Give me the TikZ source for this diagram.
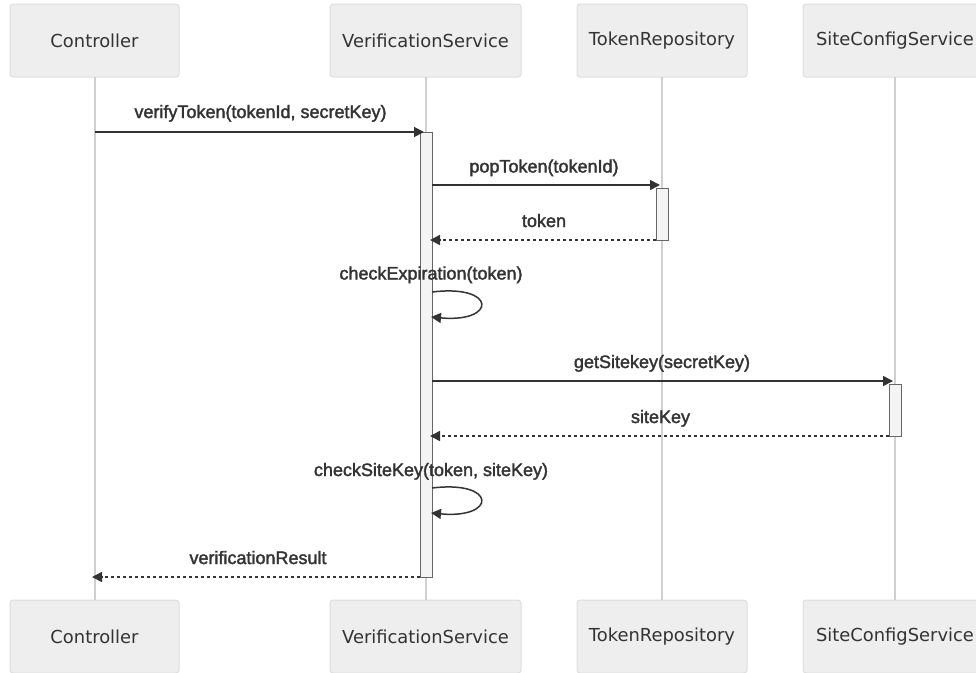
\documentclass[tikz,border=0pt]{standalone}
\usepackage{fontspec}
\setmainfont{Liberation Sans}
\newfontfamily\actorfont{DejaVu Sans}
\newfontfamily\msgfont[FakeBold=2]{Liberation Sans}
\usetikzlibrary{arrows.meta}
\definecolor{ink}{HTML}{333333}
\definecolor{actorfill}{HTML}{EEEEEE}
\definecolor{actorline}{HTML}{DDDDDD}
\definecolor{lifeline}{HTML}{D0D0D0}
\definecolor{actfill}{HTML}{F4F4F4}
\definecolor{actline}{HTML}{666666}
\tikzset{
  actor/.style={rectangle, rounded corners=3pt, fill=actorfill, draw=actorline,
    line width=1pt, inner sep=0pt, outer sep=0pt, minimum height=73pt,
    text=ink, font=\actorfont\fontsize{17.9}{20}\selectfont},
  life/.style={draw=lifeline, line width=2pt},
  activ/.style={rectangle, fill=actfill, draw=actline, line width=0.8pt,
    inner sep=0pt, outer sep=0pt, minimum width=12pt},
  msg/.style={draw=ink, line width=1.5pt, -{Triangle[length=10pt,width=10pt]}},
  reply/.style={msg, dash pattern=on 3pt off 3pt},
  msglabel/.style={anchor=base, text=ink, inner sep=0pt,
    font=\msgfont\fontsize{18}{20}\selectfont},
}
\begin{document}
\begin{tikzpicture}[x=1pt,y=-1pt]
\useasboundingbox (0,0) rectangle (976,672);

% participants, top row
\node[actor, minimum width=169pt] (ctlTop) at (94.5,40.5) {Controller};
\node[actor, minimum width=191pt] (vsTop)  at (425.5,40.5) {VerificationService};
\node[actor, minimum width=170pt] (trTop)  at (662,40.5) {TokenRepository};
\node[actor, minimum width=184pt] (scsTop) at (895,40.5) {SiteConfigService};

% participants, bottom row
\node[actor, minimum width=169pt] (ctlBot) at (94.5,636.5) {Controller};
\node[actor, minimum width=191pt] (vsBot)  at (425.5,636.5) {VerificationService};
\node[actor, minimum width=170pt] (trBot)  at (662,636.5) {TokenRepository};
\node[actor, minimum width=184pt] (scsBot) at (895,636.5) {SiteConfigService};

% lifelines
\draw[life] (ctlTop.south) -- (ctlBot.north);
\draw[life] (vsTop.south) -- (vsBot.north);
\draw[life] (trTop.south) -- (trBot.north);
\draw[life] (scsTop.south) -- (scsBot.north);

% activation bars
\node[activ, minimum height=445pt] (actVS)  at (426,354.5) {};
\node[activ, minimum height=52pt]  (actTR)  at (662,214) {};
\node[activ, minimum height=52pt]  (actSCS) at (895,410) {};

% message end points
\coordinate (m1a) at (95,132);   \coordinate (m1b) at (424,132);
\coordinate (m2a) at (432,185);  \coordinate (m2b) at (660,185);
\coordinate (m3a) at (656,240);  \coordinate (m3b) at (430,240);
\coordinate (m4a) at (432,292);  \coordinate (m4b) at (431,317);
\coordinate (m5a) at (432,381);  \coordinate (m5b) at (893,381);
\coordinate (m6a) at (889,436);  \coordinate (m6b) at (430,436);
\coordinate (m7a) at (432,488);  \coordinate (m7b) at (431,513);
\coordinate (m8a) at (420,577);  \coordinate (m8b) at (92,577);

% messages
\draw[msg] (m1a) -- (m1b);
\draw[msg] (m2a) -- (m2b);
\draw[reply] (m3a) -- (m3b);
\draw[msg] (m4a) .. controls (497,284) and (497,323) .. (m4b);
\draw[msg] (m5a) -- (m5b);
\draw[reply] (m6a) -- (m6b);
\draw[msg] (m7a) .. controls (497,480) and (497,519) .. (m7b);
\draw[reply] (m8a) -- (m8b);

% message labels
\node[msglabel] (l1) at (260.5,118) {verifyToken(tokenId, secretKey)};
\node[msglabel] (l2) at (544,172.5) {popToken(tokenId)};
\node[msglabel] (l3) at (544,227) {token};
\node[msglabel] (l4) at (431,279.5) {checkExpiration(token)};
\node[msglabel] (l5) at (662,368) {getSitekey(secretKey)};
\node[msglabel] (l6) at (660.5,423) {siteKey};
\node[msglabel] (l7) at (431,476) {checkSiteKey(token, siteKey)};
\node[msglabel] (l8) at (258,564) {verificationResult};
\end{tikzpicture}
\end{document}
